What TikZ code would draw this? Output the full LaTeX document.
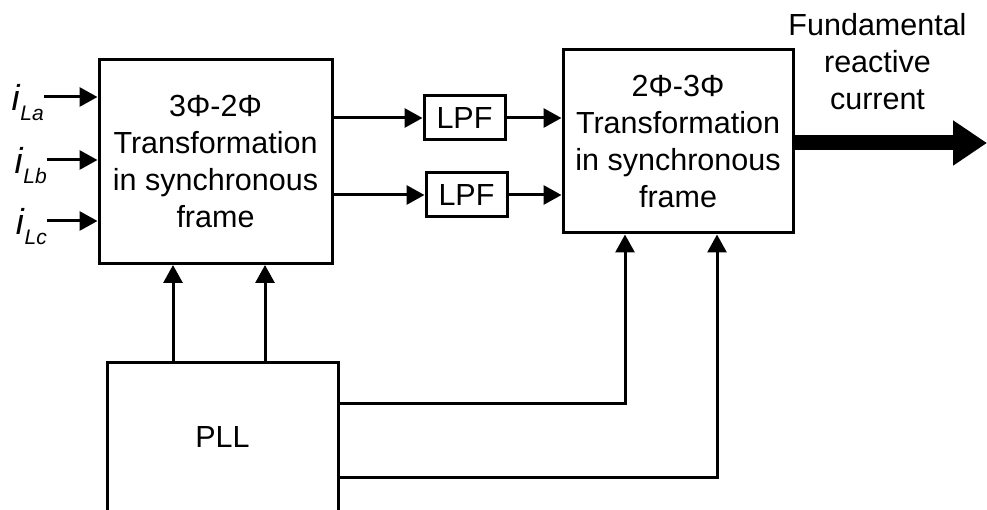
\documentclass[tikz,border=0pt]{standalone}
\usepackage{fontspec}
\setmainfont{Liberation Sans}
\usepackage{tikz}
\usetikzlibrary{arrows.meta,positioning,calc}
\tikzset{
  box/.style={draw, line width=3pt, align=center, inner sep=2pt,
              font=\fontsize{30.5}{37}\selectfont},
  lpfbox/.style={box, minimum width=81pt, minimum height=44pt},
  flow/.style={-{Triangle[length=18pt,width=19pt]}, line width=3pt},
  bigflow/.style={-{Triangle[length=34pt,width=43pt]}, line width=15pt},
  inlabel/.style={anchor=east, inner sep=0pt, font=\fontsize{36}{36}\selectfont},
}
\newcommand{\phcur}[1]{\textit{i}\raisebox{-10pt}{\fontsize{21}{21}\selectfont\itshape #1}}

\begin{document}
\begin{tikzpicture}[x=1pt,y=-1pt]
        \useasboundingbox (0,0) rectangle (987,510);
        \node[box, minimum width=233pt, minimum height=204pt] (tf) at (215.5,161.5)
          {3Φ-2Φ\\Transformation\\in synchronous\\frame};
        \node[box, minimum width=230pt, minimum height=183pt] (tb) at (678,141.5)
          {2Φ-3Φ\\Transformation\\in synchronous\\frame};
        \node[lpfbox] (lpfa) at (464.5,118) {LPF};
        \node[lpfbox] (lpfb) at (466.5,195) {LPF};
        \node[box, minimum width=231pt, minimum height=150pt] (pll) at (222.5,437) {PLL};
        % inputs
        \node[inlabel] (ia) at (44,103) {\phcur{La}};
        \node[inlabel] (ib) at (47,166) {\phcur{Lb}};
        \node[inlabel] (ic) at (47,227) {\phcur{Lc}};
        \foreach \n in {ia,ib,ic}
          \draw[flow] ([yshift=6pt]\n.east) -- ([yshift=6pt]\n.east -| tf.west);
        % filters
        \draw[flow] (tf.east |- lpfa) -- (lpfa);
        \draw[flow] (tf.east |- lpfb) -- (lpfb);
        \draw[flow] (lpfa) -- (lpfa -| tb.west);
        \draw[flow] (lpfb) -- (lpfb -| tb.west);
        % pll
        \draw[flow] ([xshift=-42.5pt]tf.south |- pll.north) -- ([xshift=-42.5pt]tf.south);
        \draw[flow] ([xshift=49.5pt]tf.south |- pll.north) -- ([xshift=49.5pt]tf.south);
        \draw[flow] ([yshift=34pt]pll.east) -| ([xshift=-53pt]tb.south);
        \draw[flow] ([yshift=-40pt]pll.east) -| ([xshift=39pt]tb.south);
        % output
        \coordinate (out) at (987,143);
        \draw[bigflow] (tb.east |- out) -- (out);
        \node[align=center, font=\fontsize{30.5}{37}\selectfont] (lbl) at (877.5,62)
          {Fundamental\\reactive\\current};
      \end{tikzpicture}
\end{document}
